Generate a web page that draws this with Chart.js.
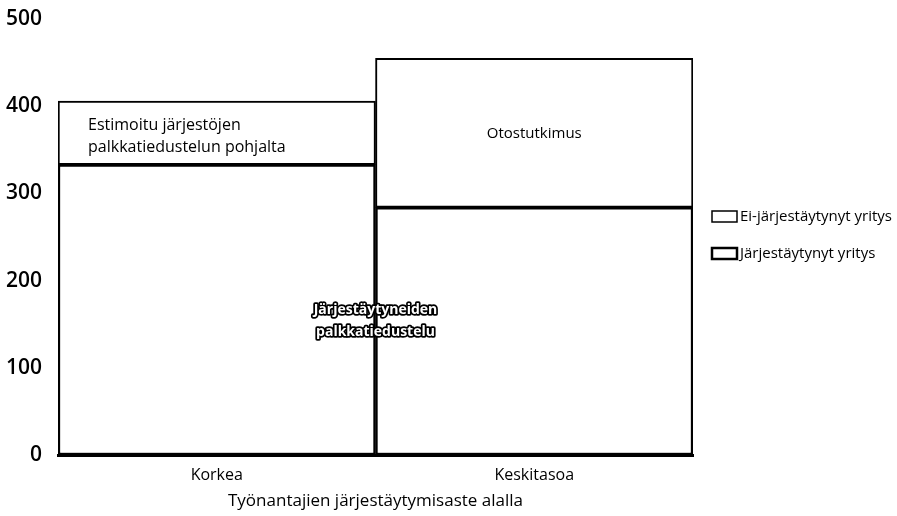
<!DOCTYPE html>
<html><head><meta charset="utf-8">
<script src="https://cdn.jsdelivr.net/npm/chart.js@4/dist/chart.umd.min.js"></script>
<style>html,body{margin:0;padding:0;background:#fff;} #wrap{width:897px;height:516px;position:relative;}</style>
</head><body><div id="wrap"><canvas id="c"></canvas></div>
<script>
const categories = ['Korkea', 'Keskitasoa'];
const organized = [333, 284];
const nonOrganized = [73, 171];
const seriesNames = ['Järjestäytynyt yritys', 'Ei-järjestäytynyt yritys'];
const yTicks = [0, 100, 200, 300, 400, 500];
const xTitle = 'Työnantajien järjestäytymisaste alalla';
const noteEstimated = ['Estimoitu järjestöjen', 'palkkatiedustelun pohjalta'];
const noteSample = ['Otostutkimus'];
const noteOrganized = ['Järjestäytyneiden', 'palkkatiedustelu'];
const noteOrganizedValue = 154;

const FONT = "'Open Sans', 'Noto Sans', sans-serif";

const notesPlugin = {
  id: 'notes',
  afterDatasetsDraw(chart) {
    const ctx = chart.ctx;
    const ys = chart.scales.y;
    const top0 = chart.getDatasetMeta(1).data[0];
    const top1 = chart.getDatasetMeta(1).data[1];
    const bot0 = chart.getDatasetMeta(0).data[0];
    ctx.save();
    ctx.fillStyle = '#000';
    ctx.textBaseline = 'middle';
    ctx.font = '16px ' + FONT;
    ctx.textAlign = 'left';
    let cy = (top0.y + top0.base) / 2;
    let lx = top0.x - top0.width / 2 + 30;
    noteEstimated.forEach((t, i) => ctx.fillText(t, lx, cy - 7 + i * 22));
    ctx.font = '15px ' + FONT;
    ctx.textAlign = 'center';
    cy = (top1.y + top1.base) / 2;
    noteSample.forEach((t) => ctx.fillText(t, top1.x, cy + 1));
    const bx = bot0.x + bot0.width / 2;
    const oy = ys.getPixelForValue(noteOrganizedValue);
    ctx.font = 'bold 14px ' + FONT;
    ctx.lineWidth = 3.5;
    ctx.lineJoin = 'round';
    ctx.strokeStyle = '#000';
    noteOrganized.forEach((t, i) => ctx.strokeText(t, bx, oy - 11 + i * 22));
    ctx.fillStyle = '#fff';
    noteOrganized.forEach((t, i) => ctx.fillText(t, bx, oy - 11 + i * 22));
    ctx.restore();
  },
  afterDraw(chart) {
    const ctx = chart.ctx;
    const ca = chart.chartArea;
    const items = [1, 0];
    const midY = (ca.top + ca.bottom) / 2;
    ctx.save();
    ctx.font = '15px ' + FONT;
    ctx.textBaseline = 'middle';
    ctx.textAlign = 'left';
    items.forEach((di, i) => {
      const ds = chart.data.datasets[di];
      const y = midY - 20 + i * 37;
      const x = ca.right + 19;
      ctx.fillStyle = '#fff';
      ctx.fillRect(x, y - 6, 25, 11);
      ctx.strokeStyle = '#000';
      ctx.lineWidth = di === 0 ? 2.5 : 1.5;
      ctx.strokeRect(x, y - 6, 25, 11);
      ctx.fillStyle = '#000';
      ctx.fillText(ds.label, x + 28, y);
    });
    ctx.restore();
  }
};

new Chart(document.getElementById('c'), {
  type: 'bar',
  data: {
    labels: categories,
    datasets: [
      { label: seriesNames[0], data: organized, backgroundColor: '#fff', borderColor: '#000', borderWidth: 2.5, borderSkipped: false },
      { label: seriesNames[1], data: nonOrganized, backgroundColor: '#fff', borderColor: '#000', borderWidth: 2, borderSkipped: false }
    ]
  },
  options: {
    responsive: true,
    maintainAspectRatio: false,
    animation: false,
    layout: { padding: { top: 19, right: 204, left: 0, bottom: 0 } },
    datasets: { bar: { categoryPercentage: 1, barPercentage: 1 } },
    plugins: { legend: { display: false }, tooltip: { enabled: false } },
    scales: {
      x: {
        stacked: true,
        grid: { display: false, drawTicks: false },
        border: { display: true, color: '#000', width: 3 },
        ticks: { color: '#000', font: { family: FONT, size: 16 }, padding: 11 },
        title: { display: true, text: xTitle, color: '#000', font: { family: FONT, size: 17 }, padding: { top: 1, bottom: 5 } },
        afterFit(s) { s.height = 61; s.paddingLeft = 0; s.paddingRight = 0; }
      },
      y: {
        stacked: true,
        min: 0, max: 500,
        afterBuildTicks(s) { s.ticks = yTicks.map(v => ({ value: v })); },
        grid: { display: false, drawTicks: false },
        border: { display: false },
        ticks: { color: '#000', font: { family: FONT, size: 21, weight: '600' }, padding: 16 },
        afterFit(s) { s.width = 58; s.paddingTop = 0; s.paddingBottom = 0; }
      }
    }
  },
  plugins: [notesPlugin]
});
</script>
</body></html>
